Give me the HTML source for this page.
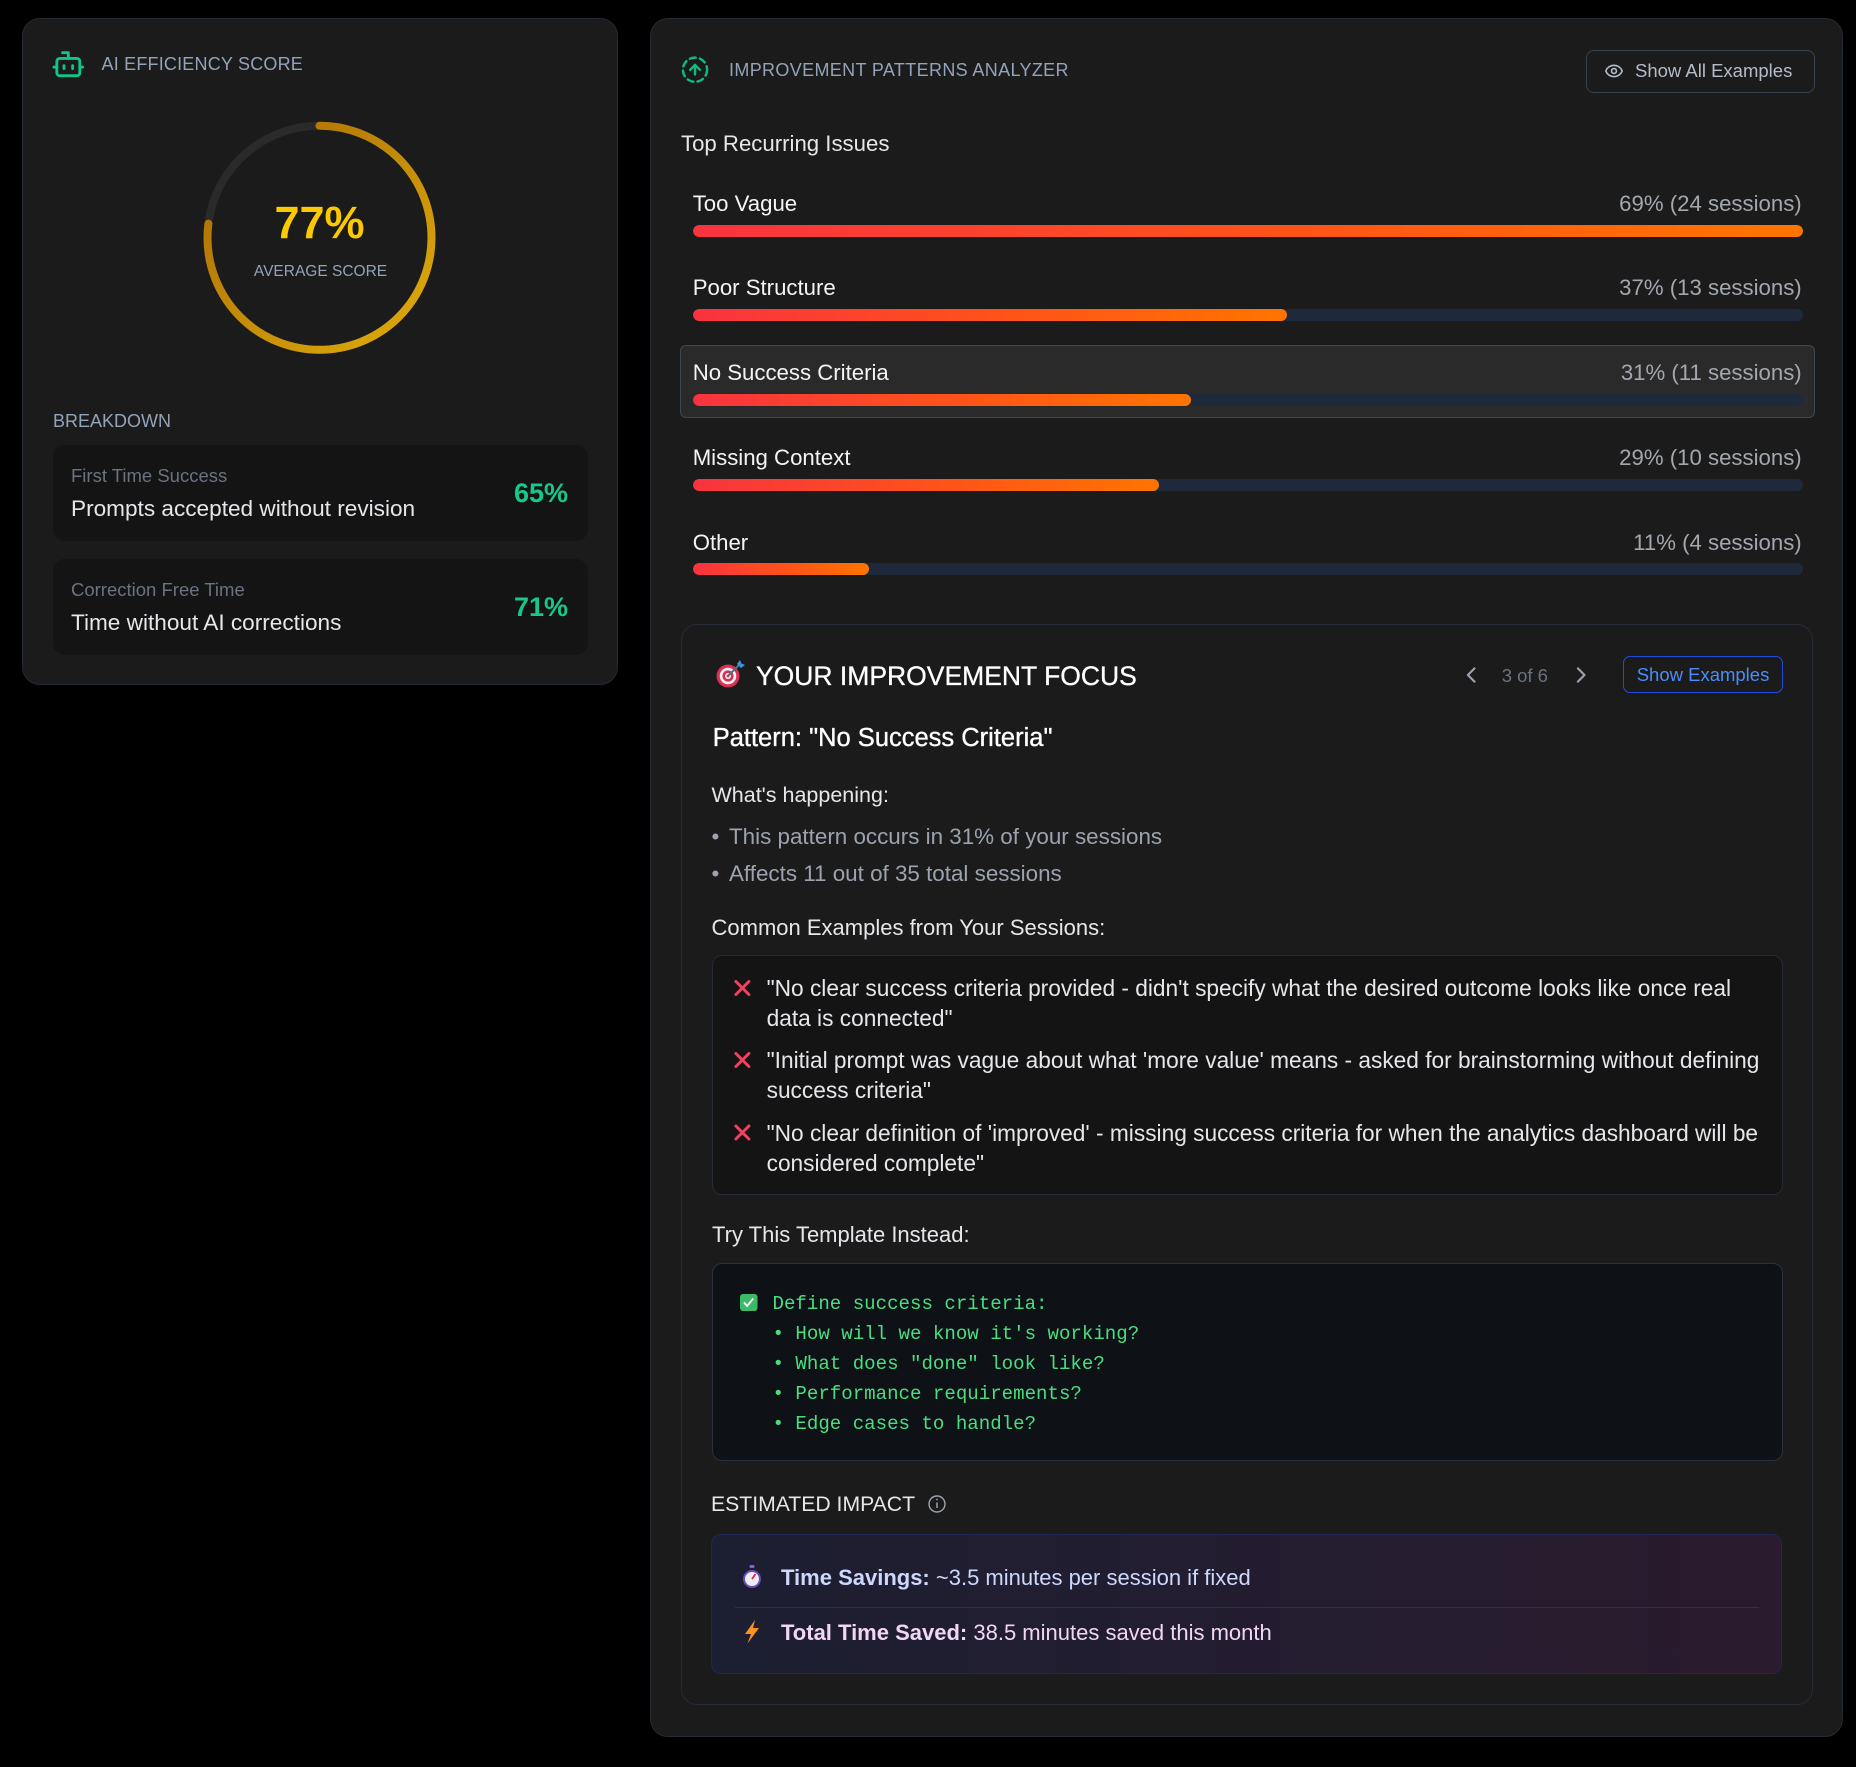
<!DOCTYPE html>
<html><head><meta charset="utf-8">
<style>
*{margin:0;padding:0;box-sizing:border-box}
html,body{width:1856px;height:1767px;background:#000;overflow:hidden}
body{position:relative;font-family:"Liberation Sans",Arial,sans-serif}
.a{position:absolute}
.t{position:absolute;white-space:nowrap;line-height:1}
.card{position:absolute;background:#1b1b1b;border:1px solid #252b33;border-radius:18px}
.bar{position:absolute;left:692.5px;width:1110px;height:12px;border-radius:6px;background:#1e293b;overflow:hidden}
.fill{height:100%;border-radius:6px;background:linear-gradient(90deg,#f8333f,#ff5418 55%,#ff7500)}
.lbl{position:absolute;white-space:nowrap;line-height:1;font-size:22.2px;color:#f3f4f6;left:692.7px}
.val{position:absolute;white-space:nowrap;line-height:1;font-size:22.2px;color:#a3a7ae;right:54.3px}
.bx{position:absolute;left:53px;width:535px;height:96px;background:#141414;border-radius:12px}
</style></head><body>

<!-- cards -->
<div class="card" style="left:22px;top:18px;width:596px;height:667px"></div>
<div class="card" style="left:650px;top:18px;width:1193px;height:1719px"></div>

<!-- breakdown boxes -->
<div class="bx" style="top:445px"></div>
<div class="bx" style="top:559px"></div>

<!-- show all examples button -->
<div class="a" style="left:1586px;top:49.5px;width:229px;height:43px;border:1.5px solid #374151;border-radius:8px"></div>

<!-- highlighted row -->
<div class="a" style="left:680px;top:345px;width:1135px;height:73px;background:#2a2a2a;border:1px solid #3e4652;border-radius:6px"></div>

<!-- bars -->
<div class="bar" style="top:225px"><div class="fill" style="width:100%"></div></div>
<div class="bar" style="top:309px"><div class="fill" style="width:53.6%"></div></div>
<div class="bar" style="top:394px"><div class="fill" style="width:44.9%"></div></div>
<div class="bar" style="top:479px"><div class="fill" style="width:42.0%"></div></div>
<div class="bar" style="top:563px"><div class="fill" style="width:15.9%"></div></div>

<!-- focus box -->
<div class="a" style="left:680.5px;top:623.5px;width:1132.5px;height:1081.5px;border:1px solid #262c35;border-radius:16px;background:#1b1b1b"></div>
<div class="a" style="left:1623.3px;top:656px;width:160px;height:37.3px;border:1.5px solid #1d4ed8;border-radius:7px"></div>

<!-- examples box -->
<div class="a" style="left:712px;top:954.5px;width:1070.5px;height:240.5px;background:#141414;border:1px solid #252b35;border-radius:10px"></div>
<!-- template box -->
<div class="a" style="left:712px;top:1262.7px;width:1070.5px;height:198.3px;background:#0e1217;border:1px solid #2a3240;border-radius:10px"></div>
<!-- impact box -->
<div class="a" style="left:711px;top:1534px;width:1071px;height:140px;background:linear-gradient(90deg,#1c1f31,#2a1a2e);border:1px solid #1f2856;border-radius:10px"></div>
<div class="a" style="left:735px;top:1607px;width:1024px;height:1px;background:#272f66"></div>

<svg class="a" style="left:0;top:0" width="1856" height="1767" viewBox="0 0 1856 1767">
<defs>
<linearGradient id="gg" gradientUnits="userSpaceOnUse" x1="430" y1="130" x2="215" y2="345">
<stop offset="0" stop-color="#a86a06"/><stop offset="1" stop-color="#deab0b"/>
</linearGradient>
</defs>
<!-- gauge -->
<circle cx="319.5" cy="237.8" r="112" fill="none" stroke="#2a2a2a" stroke-width="8"/>
<circle cx="319.5" cy="237.8" r="112" fill="none" stroke="url(#gg)" stroke-width="8" stroke-dasharray="541.8 800" stroke-linecap="round" transform="rotate(-90 319.5 237.8)"/>
<!-- robot -->
<g transform="translate(51.1 47) scale(1.435)" fill="none" stroke="#12c488" stroke-width="2" stroke-linecap="round" stroke-linejoin="round"><path d="M12 8V4H8"/><rect x="4" y="8" width="16" height="12" rx="2"/><path d="M2 14h2M20 14h2M15 13v2M9 13v2"/></g>
<!-- dashed circle arrow -->
<g transform="translate(680.5 55.2) scale(1.21)" fill="none" stroke="#10b981" stroke-width="2" stroke-linecap="round" stroke-linejoin="round"><circle cx="12" cy="12" r="10" stroke-dasharray="5 3.5"/><path d="m16 12-4-4-4 4M12 16V8"/></g>
<!-- eye -->
<g transform="translate(1604.2 61.2) scale(0.815)" fill="none" stroke="#b4bcc8" stroke-width="2" stroke-linecap="round" stroke-linejoin="round"><path d="M2.062 12.348a1 1 0 0 1 0-.696 10.75 10.75 0 0 1 19.876 0 1 1 0 0 1 0 .696 10.75 10.75 0 0 1-19.876 0"/><circle cx="12" cy="12" r="3"/></g>
<!-- chevrons -->
<g transform="translate(1458 661.8) scale(1.1)" fill="none" stroke="#9ca3af" stroke-width="2" stroke-linecap="round" stroke-linejoin="round"><path d="m15 18-6-6 6-6"/></g>
<g transform="translate(1568 661.8) scale(1.1)" fill="none" stroke="#9ca3af" stroke-width="2" stroke-linecap="round" stroke-linejoin="round"><path d="m9 18 6-6-6-6"/></g>
<!-- target emoji -->
<g>
<circle cx="728" cy="676" r="11.5" fill="#dd2e54"/><circle cx="728" cy="676" r="8.3" fill="#f5f5f5"/><circle cx="728" cy="676" r="5.6" fill="#dd2e54"/><circle cx="728" cy="676" r="3" fill="#f5f5f5"/><circle cx="728" cy="676" r="1.4" fill="#dd2e54"/>
<path d="M728 676 L739 665" stroke="#5a6b7c" stroke-width="2"/>
<path d="M737 664 l3 -4 l1.5 3.5 l3.5 1.5 l-4 3 z" fill="#3b94d9"/>
</g>
<!-- X marks -->
<g stroke="#f43f5e" stroke-width="3" stroke-linecap="round">
<path d="M735.9 981.5L748.9 994.5M748.9 981.5L735.9 994.5"/>
<path d="M735.9 1053.5L748.9 1066.5M748.9 1053.5L735.9 1066.5"/>
<path d="M735.9 1126L748.9 1139M748.9 1126L735.9 1139"/>
</g>
<!-- checkbox -->
<rect x="740" y="1294" width="17.5" height="17" rx="3" fill="#3cba68"/>
<path d="M744 1302.5l3.2 3.5 6-7.5" stroke="#fff" stroke-width="1.8" fill="none"/>
<!-- info -->
<circle cx="937" cy="1504" r="8" fill="none" stroke="#9ca3af" stroke-width="1.4"/>
<path d="M937 1502.5v5.5" stroke="#9ca3af" stroke-width="1.5"/>
<circle cx="937" cy="1499.5" r="0.9" fill="#9ca3af"/>
<!-- stopwatch -->
<rect x="749.5" y="1565" width="5" height="3" rx="1" fill="#8a5cd0"/>
<circle cx="752" cy="1579" r="8" fill="#ececf4" stroke="#6b4bb8" stroke-width="2"/>
<path d="M752 1579l3.5-5" stroke="#e0245e" stroke-width="1.8"/>
<!-- lightning -->
<path d="M755 1620 L745 1634 L751 1634 L747.5 1643.5 L759 1628 L753 1628 Z" fill="#f7931e"/>
</svg>

<!-- LEFT CARD TEXT -->
<div class="t" style="left:101.5px;top:55.2px;font-size:18px;letter-spacing:0.2px;color:#94a3b8">AI EFFICIENCY SCORE</div>
<div class="t" style="left:219.5px;width:200px;text-align:center;top:199.7px;font-size:45px;font-weight:bold;color:#fcc800">77%</div>
<div class="t" style="left:220.5px;width:200px;text-align:center;top:264px;font-size:15.5px;color:#94a3b8">AVERAGE SCORE</div>
<div class="t" style="left:53px;top:412.2px;font-size:18px;color:#94a3b8">BREAKDOWN</div>

<div class="t" style="left:71px;top:466.5px;font-size:18.5px;color:#6b7280">First Time Success</div>
<div class="t" style="left:71px;top:497.6px;font-size:22.6px;color:#e5e7eb">Prompts accepted without revision</div>
<div class="t" style="left:468px;width:100px;text-align:right;top:479.6px;font-size:27px;font-weight:bold;color:#14c98b">65%</div>

<div class="t" style="left:71px;top:580.5px;font-size:18.5px;color:#6b7280">Correction Free Time</div>
<div class="t" style="left:71px;top:611.6px;font-size:22.6px;color:#e5e7eb">Time without AI corrections</div>
<div class="t" style="left:468px;width:100px;text-align:right;top:593.6px;font-size:27px;font-weight:bold;color:#14c98b">71%</div>

<!-- RIGHT CARD TEXT -->
<div class="t" style="left:729px;top:61.4px;font-size:18px;letter-spacing:0.35px;color:#94a3b8">IMPROVEMENT PATTERNS ANALYZER</div>
<div class="t" style="left:1635px;top:61.5px;font-size:18.5px;color:#b4bcc8">Show All Examples</div>
<div class="t" style="left:681px;top:133px;font-size:22.2px;color:#e5e7eb">Top Recurring Issues</div>

<div class="lbl" style="top:193.3px">Too Vague</div>
<div class="val" style="top:193.3px">69% (24 sessions)</div>
<div class="lbl" style="top:277.3px">Poor Structure</div>
<div class="val" style="top:277.3px">37% (13 sessions)</div>
<div class="lbl" style="top:362.3px">No Success Criteria</div>
<div class="val" style="top:362.3px">31% (11 sessions)</div>
<div class="lbl" style="top:447.3px">Missing Context</div>
<div class="val" style="top:447.3px">29% (10 sessions)</div>
<div class="lbl" style="top:531.8px">Other</div>
<div class="val" style="top:531.8px">11% (4 sessions)</div>

<div class="t" style="left:756px;top:662.5px;font-size:26.5px;color:#fff;-webkit-text-stroke:0.3px #fff">YOUR IMPROVEMENT FOCUS</div>
<div class="t" style="left:1501.7px;top:666.5px;font-size:18.5px;color:#6b7280">3 of 6</div>
<div class="t" style="left:1636.7px;top:666.3px;font-size:18.5px;color:#4a8df8">Show Examples</div>

<div class="t" style="left:712.7px;top:726px;font-size:25.5px;color:#fff;-webkit-text-stroke:0.35px #fff">Pattern: "No Success Criteria"</div>
<div class="t" style="left:711.5px;top:785px;font-size:21.5px;color:#e5e7eb">What's happening:</div>
<div class="t" style="left:711.5px;top:826.3px;font-size:22.4px;color:#9ca3af">•</div>
<div class="t" style="left:729px;top:826.3px;font-size:22.4px;color:#9ca3af">This pattern occurs in 31% of your sessions</div>
<div class="t" style="left:711.5px;top:862.8px;font-size:22.4px;color:#9ca3af">•</div>
<div class="t" style="left:729px;top:862.8px;font-size:22.4px;color:#9ca3af">Affects 11 out of 35 total sessions</div>
<div class="t" style="left:711.5px;top:916.5px;font-size:22px;color:#e5e7eb">Common Examples from Your Sessions:</div>

<div class="a" style="left:766.6px;top:973px;font-size:22.7px;line-height:30px;white-space:nowrap;color:#e5e7eb">"No clear success criteria provided - didn't specify what the desired outcome looks like once real<br>data is connected"</div>
<div class="a" style="left:766.6px;top:1045.3px;font-size:22.7px;line-height:30px;white-space:nowrap;color:#e5e7eb">"Initial prompt was vague about what 'more value' means - asked for brainstorming without defining<br>success criteria"</div>
<div class="a" style="left:766.6px;top:1117.7px;font-size:22.7px;line-height:30px;white-space:nowrap;color:#e5e7eb">"No clear definition of 'improved' - missing success criteria for when the analytics dashboard will be<br>considered complete"</div>

<div class="t" style="left:712px;top:1224.3px;font-size:22px;color:#e5e7eb">Try This Template Instead:</div>
<div class="a" style="left:772.5px;top:1288.6px;font-family:'Liberation Mono',monospace;font-size:19.1px;line-height:30px;white-space:pre;color:#4ade80">Define success criteria:
• How will we know it's working?
• What does "done" look like?
• Performance requirements?
• Edge cases to handle?</div>

<div class="t" style="left:711px;top:1493.5px;font-size:21.2px;color:#e5e7eb">ESTIMATED IMPACT</div>
<div class="t" style="left:781px;top:1566.8px;font-size:22px;color:#cdd8fd"><b>Time Savings:</b> ~3.5 minutes per session if fixed</div>
<div class="t" style="left:781px;top:1621.8px;font-size:22px;color:#f1d6f6"><b>Total Time Saved:</b> 38.5 minutes saved this month</div>

</body></html>
